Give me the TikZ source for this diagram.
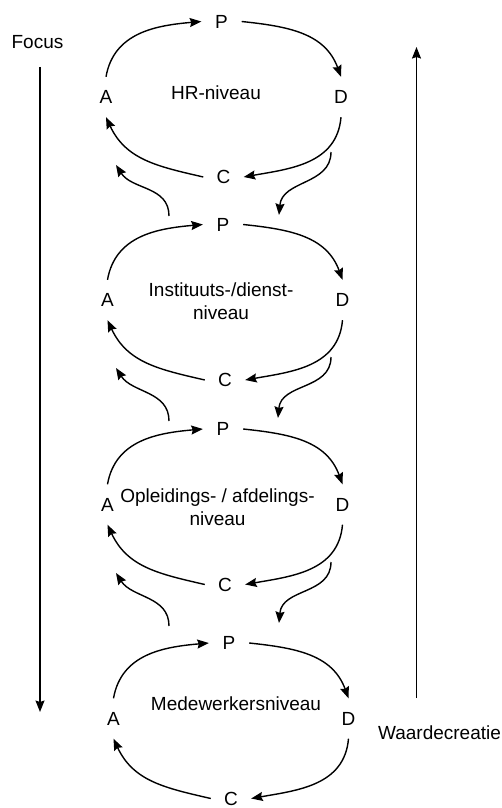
\documentclass[tikz,border=0pt]{standalone}
\usepackage{fontspec}
\setmainfont{Liberation Sans}
\usetikzlibrary{arrows.meta}

% One PDCA loop: #1 = name suffix, #2 = position of its P node
\newcommand\pdcaloop[2]{%
  \begin{scope}[shift={#2}]
    \node[pdca] (P#1) at (0,0) {P};
    \node[pdca] (A#1) at (-115.5,-75.5) {A};
    \node[pdca] (D#1) at (119.5,-75.5) {D};
    \node[pdca] (C#1) at (2,-155.5) {C};
  \end{scope}
  \draw[loopflow] (A#1.north) to[out=80,in=185] (P#1.west);
  \draw[loopflow] (P#1.east) to[out=-6,in=110] (D#1.north);
  \draw[loopflow] (D#1.south) to[out=-95,in=10] (C#1.east);
  \draw[loopflow] (C#1.west) to[out=167,in=-65] (A#1.south);
}

\begin{document}
\begin{tikzpicture}[x=1pt,y=1pt,
  lbl/.style={font=\fontsize{19}{23}\selectfont, inner sep=0pt},
  pdca/.style={lbl, minimum width=40pt, minimum height=40pt},
  flow/.style={line width=1.4pt, -{Stealth[length=11.5pt,width=9pt,inset=1.5pt]}},
  loopflow/.style={flow, looseness=1.05},
  linkup/.style={flow},
]
\useasboundingbox (0,0) rectangle (501,-808);

% the four levels
\pdcaloop{1}{(221.5,-21.5)}
\pdcaloop{2}{(223,-224.5)}
\pdcaloop{3}{(223,-429)}
\pdcaloop{4}{(229,-643)}

\node[lbl] (hr) at (216,-93) {HR-niveau};
\node[lbl, align=center] (inst) at (221,-301.5) {Instituuts-/dienst-\\niveau};
\node[lbl, align=center] (opl) at (217.5,-507.5) {Opleidings- / afdelings-\\niveau};
\node[lbl] (mdw) at (236,-704) {Medewerkersniveau};

% links between consecutive levels
\coordinate (L1s) at (169,-216); \coordinate (L1e) at (116,-165);
\coordinate (R1s) at (331,-152); \coordinate (R1e) at (279,-215);
\coordinate (L2s) at (169,-421); \coordinate (L2e) at (116,-368);
\coordinate (R2s) at (331,-357); \coordinate (R2e) at (278,-418);
\coordinate (L3s) at (169,-626); \coordinate (L3e) at (116,-573);
\coordinate (R3s) at (331,-562); \coordinate (R3e) at (279,-623);
\foreach \i in {1,2,3}{
  \draw[linkup] (L\i s) .. controls +(0,30) and +(16,-25) .. (L\i e);
  \draw[linkup] (R\i s) .. controls +(0,-33) and +(3,35) .. (R\i e);
}

% side axes
\node[lbl] (focus) at (37.5,-42) {Focus};
\coordinate (focusTop) at (40,-67);
\coordinate (focusBot) at (40,-712);
\draw[flow] (focusTop) -- (focusBot);

\node[lbl] (waarde) at (439.5,-732.5) {Waardecreatie};
\coordinate (waardeBot) at (416.5,-698);
\coordinate (waardeTop) at (416.5,-47);
\draw[flow] (waardeBot) -- (waardeTop);
\end{tikzpicture}
\end{document}
